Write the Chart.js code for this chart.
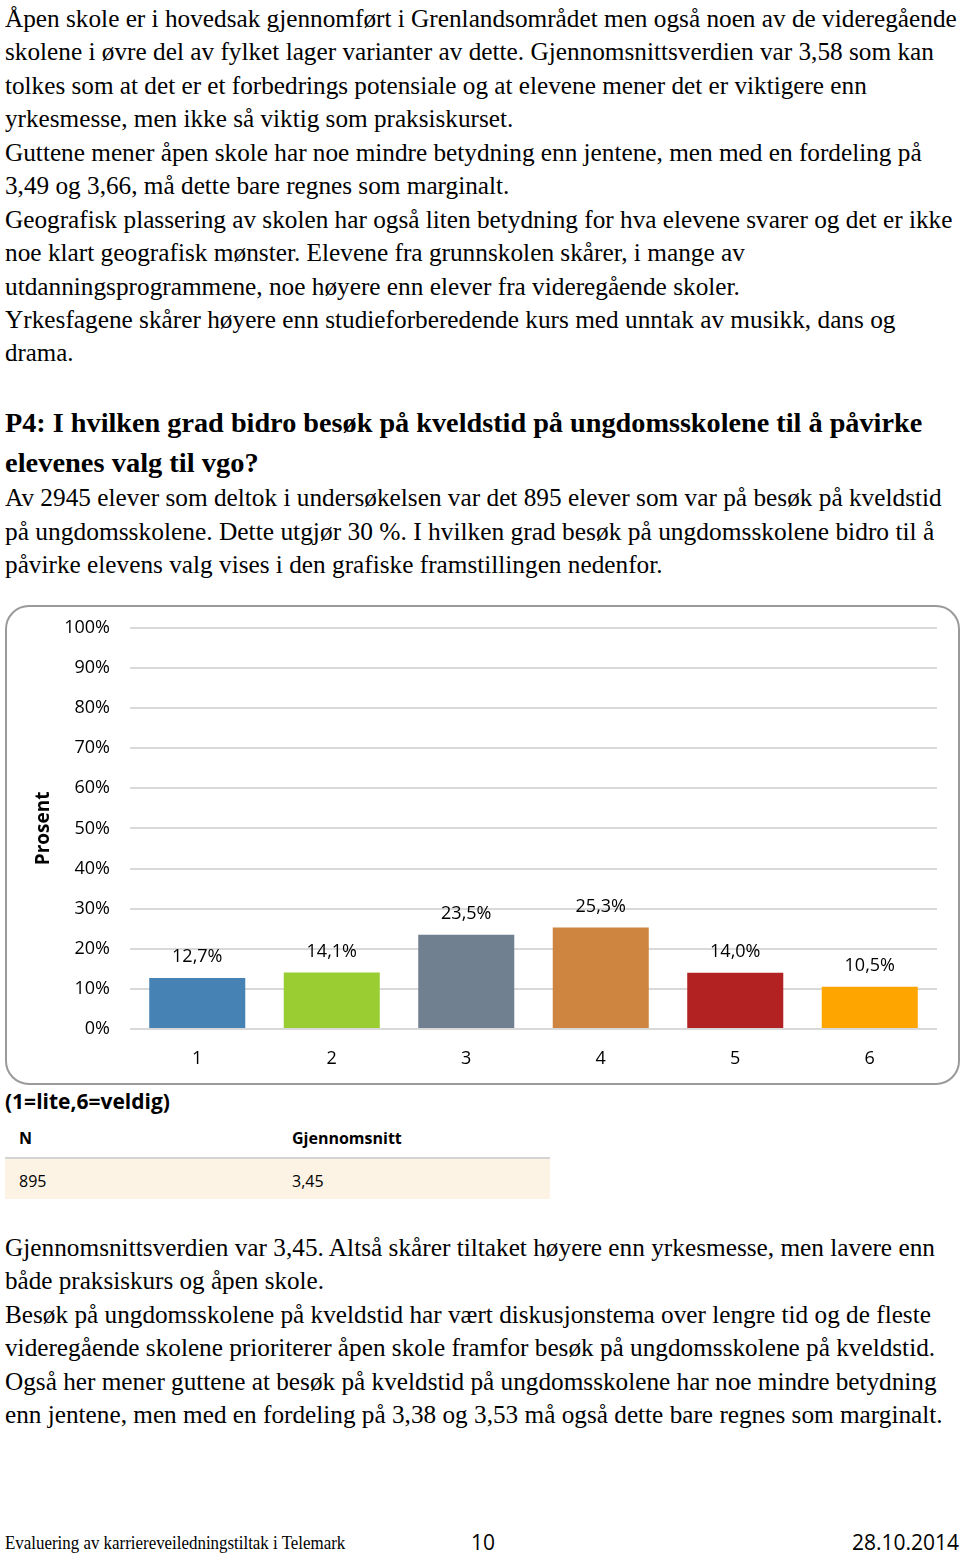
<!DOCTYPE html>
<html>
<head>
<meta charset="utf-8">
<script src="https://cdn.jsdelivr.net/npm/chart.js@4/dist/chart.umd.min.js"></script>
<style>
  html, body { margin: 0; padding: 0; background: #fff; }
  body { width: 960px; height: 1555px; position: relative; overflow: hidden; }
  .ln {
    position: absolute; left: 5px; white-space: nowrap;
    font-family: "Liberation Serif", "Times New Roman", serif;
    font-size: 26px; line-height: 34px; color: #000;
    transform-origin: left center;
  }
  .ln.h { font-weight: bold; font-size: 27px; }
  .sans { position: absolute; font-family: "Open Sans", sans-serif; color: #000; white-space: nowrap; }
  #box {
    position: absolute; left: 5px; top: 605px; width: 951px; height: 476px;
    border: 2px solid #9a9a9a; border-radius: 24px;
  }
  #wrap { position: absolute; left: 5px; top: 597px; width: 953px; height: 486px; }
  #tbl { position: absolute; left: 5px; top: 1120px; width: 545px; }
  #tbl .hd { height: 37px; border-bottom: 2px solid #d4d4d4; position: relative; }
  #tbl .rw { height: 40px; background: #fcf3e4; position: relative; }
</style>
</head>
<body>

<div class="ln" style="top:2px" data-w="952">Åpen skole er i hovedsak gjennomført i Grenlandsområdet men også noen av de videregående</div>
<div class="ln" style="top:35px" data-w="929">skolene i øvre del av fylket lager varianter av dette. Gjennomsnittsverdien var 3,58 som kan</div>
<div class="ln" style="top:69px" data-w="862">tolkes som at det er et forbedrings potensiale og at elevene mener det er viktigere enn</div>
<div class="ln" style="top:102px" data-w="508">yrkesmesse, men ikke så viktig som praksiskurset.</div>
<div class="ln" style="top:136px" data-w="917">Guttene mener åpen skole har noe mindre betydning enn jentene, men med en fordeling på</div>
<div class="ln" style="top:169px" data-w="504">3,49 og 3,66, må dette bare regnes som marginalt.</div>
<div class="ln" style="top:203px" data-w="947">Geografisk plassering av skolen har også liten betydning for hva elevene svarer og det er ikke</div>
<div class="ln" style="top:236px" data-w="740">noe klart geografisk mønster. Elevene fra grunnskolen skårer, i mange av</div>
<div class="ln" style="top:270px" data-w="735">utdanningsprogrammene, noe høyere enn elever fra videregående skoler.</div>
<div class="ln" style="top:303px" data-w="890">Yrkesfagene skårer høyere enn studieforberedende kurs med unntak av musikk, dans og</div>
<div class="ln" style="top:336px" data-w="68">drama.</div>

<div class="ln h" style="top:406px" data-w="917">P4: I hvilken grad bidro besøk på kveldstid på ungdomsskolene til å påvirke</div>
<div class="ln h" style="top:446px" data-w="254">elevenes valg til vgo?</div>
<div class="ln" style="top:481px" data-w="937">Av 2945 elever som deltok i undersøkelsen var det 895 elever som var på besøk på kveldstid</div>
<div class="ln" style="top:515px" data-w="929">på ungdomsskolene. Dette utgjør 30 %.  I hvilken grad besøk på ungdomsskolene bidro til å</div>
<div class="ln" style="top:548px" data-w="658">påvirke elevens valg vises i den grafiske framstillingen nedenfor.</div>

<div id="box"></div>
<div id="wrap"><canvas id="myChart"></canvas></div>

<div class="sans" style="left:5px; top:1087px; font-size:21px; font-weight:bold;">(1=lite,6=veldig)</div>
<div id="tbl">
  <div class="hd">
    <span class="sans" style="left:14px; top:7px; font-size:16px; font-weight:bold;">N</span>
    <span class="sans" style="left:287px; top:7px; font-size:16px; font-weight:bold;">Gjennomsnitt</span>
  </div>
  <div class="rw">
    <span class="sans" style="left:14px; top:11px; font-size:16px;">895</span>
    <span class="sans" style="left:287px; top:11px; font-size:16px;">3,45</span>
  </div>
</div>

<div class="ln" style="top:1231px" data-w="930">Gjennomsnittsverdien var 3,45. Altså skårer tiltaket høyere enn yrkesmesse, men lavere enn</div>
<div class="ln" style="top:1264px" data-w="319">både praksiskurs og åpen skole.</div>
<div class="ln" style="top:1298px" data-w="926">Besøk på ungdomsskolene på kveldstid har vært diskusjonstema over lengre tid og de fleste</div>
<div class="ln" style="top:1331px" data-w="930">videregående skolene prioriterer åpen skole framfor besøk på ungdomsskolene på kveldstid.</div>
<div class="ln" style="top:1365px" data-w="932">Også her mener guttene at besøk på kveldstid på ungdomsskolene har noe mindre betydning</div>
<div class="ln" style="top:1398px" data-w="938">enn jentene, men med en fordeling på 3,38 og 3,53 må også dette bare regnes som marginalt.</div>

<div class="ln" style="top:1526px; font-size:18px;" data-w="340">Evaluering av karriereveiledningstiltak i Telemark</div>
<div class="sans" style="left:471px; top:1528px; font-size:21px;">10</div>
<div class="sans" style="right:1px; top:1528px; font-size:21px;">28.10.2014</div>

<script>
'use strict';

// fit each text line to the width it has in the scanned page
document.querySelectorAll( '.ln' ).forEach( function( el ) {
  const target = parseFloat( el.dataset.w );
  const natural = el.scrollWidth;
  el.style.transform = 'scaleX(' + ( target / natural ) + ')';
} );

const categories = [ '1', '2', '3', '4', '5', '6' ];
const percentValues = [ 12.7, 14.1, 23.5, 25.3, 14.0, 10.5 ];
const barColors = [ '#4682b4', '#9acd32', '#708090', '#cd853f', '#b22222', '#ffa500' ];
const yTicks = [ 0, 10, 20, 30, 40, 50, 60, 70, 80, 90, 100 ];

function pct( v ) {
  return v.toFixed( 1 ).replace( '.', ',' ) + '%';
}

const barLabels = {
  id: 'barLabels',
  afterDatasetsDraw( chart ) {
    const ctx = chart.ctx;
    const meta = chart.getDatasetMeta( 0 );
    ctx.save();
    ctx.font = '18px "Open Sans", sans-serif';
    ctx.fillStyle = '#000';
    ctx.textAlign = 'center';
    ctx.textBaseline = 'middle';
    meta.data.forEach( function( bar, i ) {
      ctx.fillText( pct( percentValues[i] ), bar.x, bar.y - 21 );
    } );
    ctx.restore();
  }
};

let ctx = document.getElementById( 'myChart' ).getContext( '2d' );
let myChart = new Chart( ctx, {
  type: 'bar',
  data: {
    labels: categories,
    datasets: [{
      data: percentValues,
      backgroundColor: barColors,
      borderWidth: 0,
      barPercentage: 0.714,
      categoryPercentage: 1
    }]
  },
  options: {
    responsive: true,
    maintainAspectRatio: false,
    animation: false,
    layout: { padding: { left: 0, right: 21, top: 16, bottom: 0 } },
    plugins: {
      legend: { display: false },
      tooltip: { enabled: false }
    },
    scales: {
      x: {
        grid: { display: false, drawTicks: false },
        border: { display: false },
        ticks: {
          color: '#000',
          font: { family: 'Open Sans', size: 18 },
          padding: 19
        },
        afterFit( axis ) { axis.height = 54; }
      },
      y: {
        min: 0,
        max: 100,
        afterBuildTicks( axis ) {
          axis.ticks = yTicks.map( function( v ) { return { value: v }; } );
        },
        grid: { color: '#d9d9d9', lineWidth: 2, drawTicks: false },
        border: { display: false },
        ticks: {
          color: '#000',
          font: { family: 'Open Sans', size: 18 },
          padding: 20,
          callback( v ) { return v + '%'; }
        },
        title: {
          display: true,
          text: 'Prosent',
          color: '#000',
          font: { family: 'Open Sans', size: 19, weight: 'bold' },
          padding: { top: 27, bottom: 0 }
        },
        afterFit( axis ) { axis.width = 125; }
      }
    }
  },
  plugins: [ barLabels ]
} );
</script>
</body>
</html>
